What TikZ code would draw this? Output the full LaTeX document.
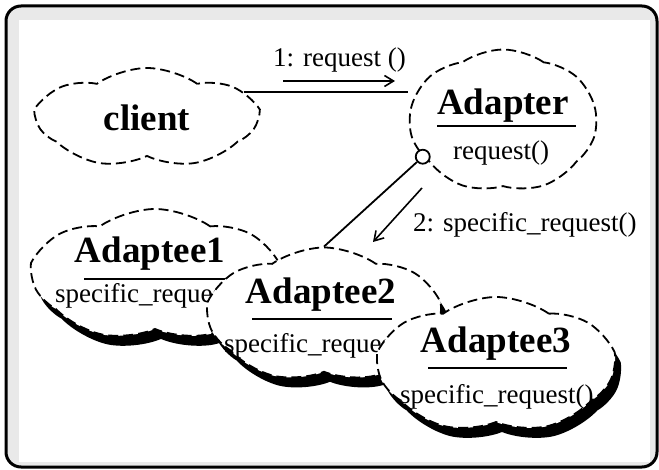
\documentclass[tikz,border=0pt]{standalone}
\usepackage{fontspec}
\setmainfont{Liberation Serif}
\usetikzlibrary{shapes.symbols,shadows,arrows.meta}
\definecolor{framegray}{RGB}{233,233,233}
\tikzset{
  cls/.style={cloud, cloud puffs=7, cloud puff arc=70, cloud ignores aspect,
    draw, line width=1.8pt, dash pattern=on 10pt off 5pt, fill=white, inner sep=0pt},
  shade/.style={drop shadow={shadow xshift=6pt, shadow yshift=-10pt, fill=black, opacity=1}},
  title/.style={font=\fontsize{37}{40}\selectfont\bfseries, inner sep=0pt, anchor=base},
  op/.style={font=\fontsize{27}{30}\selectfont, inner sep=0pt, anchor=base west},
  msg/.style={-{Straight Barb[length=9pt,width=11pt]}, line width=1.6pt},
}
\begin{document}
\begin{tikzpicture}[x=1pt,y=-1pt]
  \useasboundingbox (0,0) rectangle (659,470);
  % frame
  \draw[line width=3pt, rounded corners=15pt, fill=framegray] (6,6) rectangle (657,467);
  \fill[white] (19,20) rectangle (650,462);
  % client and adapter
  \node[cls, minimum width=219pt, minimum height=100pt,
    font=\fontsize{37}{40}\selectfont\bfseries] (client) at (147,118) {client};
  \node[cls, minimum width=187pt, minimum height=143pt] (adapter) at (503,121) {};
  \node[title] (adaptername) at (503,115) {Adapter};
  \draw[line width=2pt] (437,126) -- (576,126);
  \node[op] (adapterop) at (453,160) {request()};
  % adaptees
  \node[cls, shade, minimum width=244pt, minimum height=132pt] (adaptee1) at (155,275) {};
  \node[title] (adaptee1name) at (150,263) {Adaptee1};
  \draw[line width=2pt] (84,279) -- (228,279);
  \node[op] (adaptee1op) at (55,303) {specific\_request()};
  \node[cls, shade, minimum width=231pt, minimum height=135pt] (adaptee2) at (324,315) {};
  \node[title] (adaptee2name) at (321,304) {Adaptee2};
  \draw[line width=2pt] (252,319) -- (392,319);
  \node[op] (adaptee2op) at (224,353) {specific\_request()};
  \node[cls, shade, minimum width=235pt, minimum height=136pt] (adaptee3) at (496,365) {};
  \node[title] (adaptee3name) at (496,353) {Adaptee3};
  \draw[line width=2pt] (428,368) -- (567,368);
  \node[op] (adaptee3op) at (400,403) {specific\_request()};
  % links
  \node[draw, circle, fill=white, minimum size=14pt, inner sep=0pt, line width=1.8pt]
    (uses) at (adapter.204) {};
  \draw[line width=1.8pt] (client.15) -- (client.15 -| adapter.west);
  \draw[line width=1.8pt] (uses) -- (adaptee2.north);
  % messages
  \coordinate (m1s) at (283,81);
  \coordinate (m1e) at (395,81);
  \draw[msg] (m1s) -- (m1e);
  \node[op] (m1) at (273,67) {1: request ()};
  \coordinate (m2s) at (422,188);
  \coordinate (m2e) at (373,242);
  \draw[msg] (m2s) -- (m2e);
  \node[op] (m2) at (413,232) {2: specific\_request()};
\end{tikzpicture}
\end{document}
